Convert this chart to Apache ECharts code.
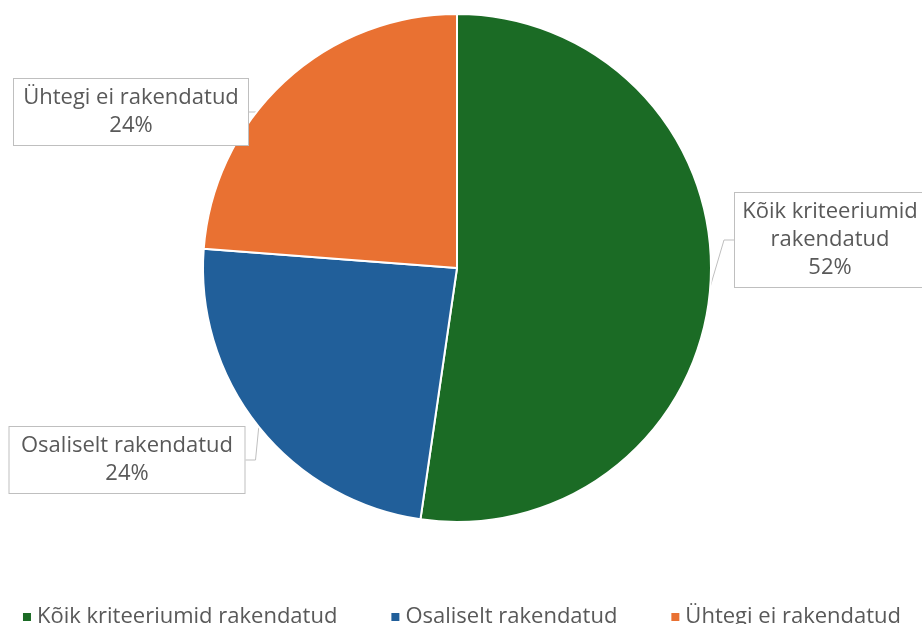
<!DOCTYPE html>
<html>
<head>
<meta charset="utf-8">
<script src="https://cdn.jsdelivr.net/npm/echarts@6/dist/echarts.min.js"></script>
<style>
html, body { margin: 0; padding: 0; background: #fff; }
#main { width: 922px; height: 624px; }
</style>
</head>
<body>
<div id="main"></div>
<script>
var categories = ['Kõik kriteeriumid rakendatud', 'Osaliselt rakendatud', 'Ühtegi ei rakendatud'];
var labelNames = ['Kõik kriteeriumid\nrakendatud', 'Osaliselt rakendatud', 'Ühtegi ei rakendatud'];
var values = [52.3, 23.9, 23.8];
var colors = ['#1b6b25', '#215f9a', '#e97132'];

// kastide keskpunktid ja laiused
var labelPos = [[830, 240], [127, 460], [131, 112]];
var labelWidth = [170, 215, 214];

var chart = echarts.init(document.getElementById('main'));
var data = [];
for (var i = 0; i < categories.length; i++) {
    data.push({
        name: categories[i],
        value: values[i],
        itemStyle: { color: colors[i] },
        label: { width: labelWidth[i] }
    });
}
var option = {
    animation: false,
    textStyle: { fontFamily: 'Open Sans' },
    legend: {
        top: 601,
        left: 'center',
        itemGap: 52,
        itemWidth: 10,
        itemHeight: 10,
        icon: 'rect',
        textStyle: { fontSize: 22, color: '#595959', fontFamily: 'Open Sans' },
        data: categories
    },
    series: [{
        type: 'pie',
        center: [457, 268],
        radius: [0, 254],
        startAngle: 90,
        clockwise: true,
        itemStyle: { borderColor: '#fff', borderWidth: 2 },
        label: {
            show: true,
            position: 'outside',
            formatter: function (p) {
                return labelNames[p.dataIndex] + '\n' + Math.round(p.value) + '%';
            },
            fontSize: 22,
            lineHeight: 28,
            color: '#595959',
            align: 'center',
            overflow: 'none',
            backgroundColor: '#fff',
            borderColor: '#bfbfbf',
            borderWidth: 1,
            padding: [5, 10]
        },
        labelLine: {
            show: true,
            length: 10,
            length2: 10,
            lineStyle: { color: '#bfbfbf', width: 1 }
        },
        labelLayout: function (params) {
            var p = labelPos[params.dataIndex];
            return { x: p[0], y: p[1], align: 'center', verticalAlign: 'middle' };
        },
        data: data
    }]
};
chart.setOption(option);
</script>
</body>
</html>
